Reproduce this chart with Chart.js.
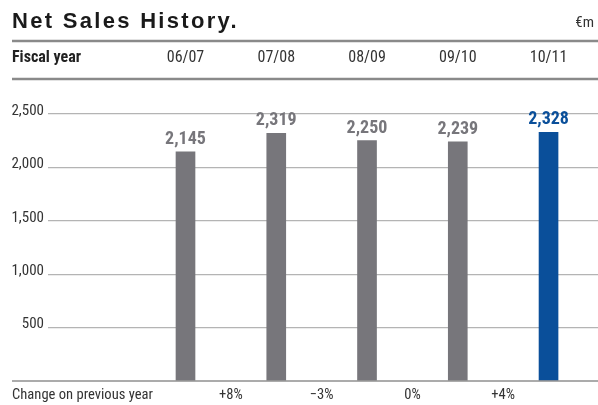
<!DOCTYPE html>
<html><head><meta charset="utf-8">
<script src="https://cdn.jsdelivr.net/npm/chart.js@4/dist/chart.umd.min.js"></script>
<style>html,body{margin:0;padding:0;background:#fff;}#wrap{width:598px;height:405px;position:relative;}</style>
</head><body><div id="wrap"><canvas id="c" width="598" height="405"></canvas></div>
<script>
const chartTitle = 'Net Sales History.';
const unitLabel = '€m';
const rowHeader = 'Fiscal year';
const footerLabel = 'Change on previous year';
const categories = ['06/07', '07/08', '08/09', '09/10', '10/11'];
const netSales = [2145, 2319, 2250, 2239, 2328];
const changeLabels = ['+8%', '\u22123%', '0%', '+4%'];
const yTickStep = 500;
const yMax = 2500;

const NARROW = '"Liberation Sans Narrow", "Roboto Condensed", "DejaVu Sans Condensed", "Liberation Sans", sans-serif';
const GREY = '#77767b';
const BLUE = '#0a4f9a';
const TEXT = '#333333';

const fmt = v => v.toLocaleString('en-US');

const decor = {
  id: 'decor',
  afterDraw(chart) {
    const ctx = chart.ctx;
    const xs = chart.scales.x, ys = chart.scales.y;
    const W = chart.width;
    ctx.save();
    // title
    ctx.fillStyle = '#1a1a1a';
    ctx.font = 'bold 22px "Liberation Sans", Arial, sans-serif';
    ctx.letterSpacing = '2.3px';
    ctx.textAlign = 'left';
    ctx.textBaseline = 'alphabetic';
    ctx.fillText(chartTitle, 12, 28);
    ctx.letterSpacing = '0px';
    ctx.font = '15px ' + NARROW;
    ctx.fillStyle = TEXT;
    ctx.textAlign = 'right';
    ctx.fillText(unitLabel, 594, 27);
    // rules
    ctx.strokeStyle = '#8a8a8a';
    ctx.lineWidth = 2.5;
    [41, 79].forEach(y => { ctx.beginPath(); ctx.moveTo(12, y); ctx.lineTo(W, y); ctx.stroke(); });
    // header row
    ctx.textAlign = 'left';
    ctx.font = 'bold 16px ' + NARROW;
    ctx.fillStyle = '#222';
    ctx.fillText(rowHeader, 12, 62);
    ctx.font = '16px ' + NARROW;
    ctx.fillStyle = TEXT;
    ctx.textAlign = 'center';
    categories.forEach((c, i) => ctx.fillText(c, xs.getPixelForValue(i), 62));
    // baseline
    const y0 = ys.getPixelForValue(0);
    ctx.strokeStyle = '#8f8f8f';
    ctx.lineWidth = 1.5;
    ctx.beginPath(); ctx.moveTo(12, y0); ctx.lineTo(W, y0); ctx.stroke();
    // footer
    ctx.font = '14.6px ' + NARROW;
    ctx.fillStyle = TEXT;
    ctx.textAlign = 'left';
    ctx.fillText(footerLabel, 12, 399);
    ctx.textAlign = 'center';
    changeLabels.forEach((t, i) => ctx.fillText(t, xs.getPixelForValue(i + 0.5), 399));
    // value labels
    const meta = chart.getDatasetMeta(0);
    ctx.font = 'bold 18px ' + NARROW;
    meta.data.forEach((bar, i) => {
      ctx.fillStyle = i === netSales.length - 1 ? BLUE : GREY;
      ctx.fillText(fmt(netSales[i]), bar.x, bar.y - 8);
    });
    ctx.restore();
  }
};

new Chart(document.getElementById('c'), {
  type: 'bar',
  data: {
    datasets: [{
      data: netSales.map((v, i) => ({ x: i, y: v })),
      backgroundColor: netSales.map((v, i) => i === netSales.length - 1 ? BLUE : GREY),
      barThickness: 19,
      borderWidth: 0
    }]
  },
  options: {
    responsive: false,
    animation: false,
    devicePixelRatio: 1,
    layout: { padding: { top: 114, bottom: 24, left: 0, right: 0 } },
    plugins: { legend: { display: false }, tooltip: { enabled: false }, title: { display: false } },
    scales: {
      x: { type: 'linear', display: false, min: -1.515, max: 4.545, offset: false },
      y: {
        min: 0, max: yMax,
        afterFit(s) { s.width = 48; },
        border: { display: false },
        grid: {
          drawTicks: false,
          lineWidth: 1.2,
          color: c => (c.tick && c.tick.value === 0) ? 'rgba(0,0,0,0)' : '#b4b4b4'
        },
        ticks: {
          stepSize: yTickStep,
          padding: 4,
          labelOffset: -3,
          color: TEXT,
          font: { family: NARROW, size: 15 },
          callback: v => v === 0 ? '' : fmt(v)
        }
      }
    }
  },
  plugins: [decor]
});
</script>
</body></html>
